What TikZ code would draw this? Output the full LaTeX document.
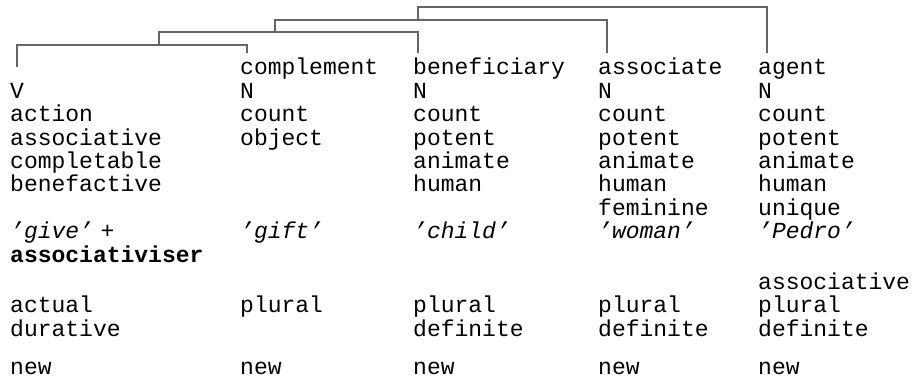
\documentclass[tikz,border=0pt]{standalone}
\usepackage{fontspec}
\setmainfont{Liberation Mono}
\usetikzlibrary{positioning}

\begin{document}
\begin{tikzpicture}[
  x=1pt, y=-1pt,
  font=\fontsize{23}{23.4}\selectfont,
  featcol/.style={anchor=base west, inner sep=0pt, align=left, text width=165pt},
  bracket/.style={draw=black!60, line width=1.4pt}
]
  \useasboundingbox (0,0) rectangle (918,382);

  \node[featcol] (verb) at (10,75)
    {~\\V\\action\\associative\\completable\\benefactive\\~\\
     \textit{'give'} +\\\textbf{associativiser}\\[4pt]~\\actual\\durative\\[15pt]new};
  \node[featcol] (compl) at (240,75)
    {complement\\N\\count\\object\\~\\~\\~\\
     \textit{'gift'}\\~\\[4pt]~\\plural\\~\\[15pt]new};
  \node[featcol] (benef) at (413,75)
    {beneficiary\\N\\count\\potent\\animate\\human\\~\\
     \textit{'child'}\\~\\[4pt]~\\plural\\definite\\[15pt]new};
  \node[featcol] (assoc) at (598,75)
    {associate\\N\\count\\potent\\animate\\human\\feminine\\
     \textit{'woman'}\\~\\[4pt]~\\plural\\definite\\[15pt]new};
  \node[featcol] (agent) at (758,75)
    {agent\\N\\count\\potent\\animate\\human\\unique\\
     \textit{'Pedro'}\\~\\[4pt]associative\\plural\\definite\\[15pt]new};

  \coordinate (verb-in) at (17,67);
  \coordinate (compl-in) at (247,53);
  \coordinate (benef-in) at (418,53);
  \coordinate (assoc-in) at (607,53);
  \coordinate (agent-in) at (767,53);
  \coordinate (j1) at (159,45);
  \coordinate (j2) at (275,32);
  \coordinate (j3) at (418,20);
  \coordinate (root) at (418,7);

  \draw[bracket] (verb-in) |- (j1) -| (compl-in);
  \draw[bracket] (j1) |- (j2) -| (benef-in);
  \draw[bracket] (j2) |- (j3) -| (assoc-in);
  \draw[bracket] (j3) -- (root) -| (agent-in);
\end{tikzpicture}
\end{document}
